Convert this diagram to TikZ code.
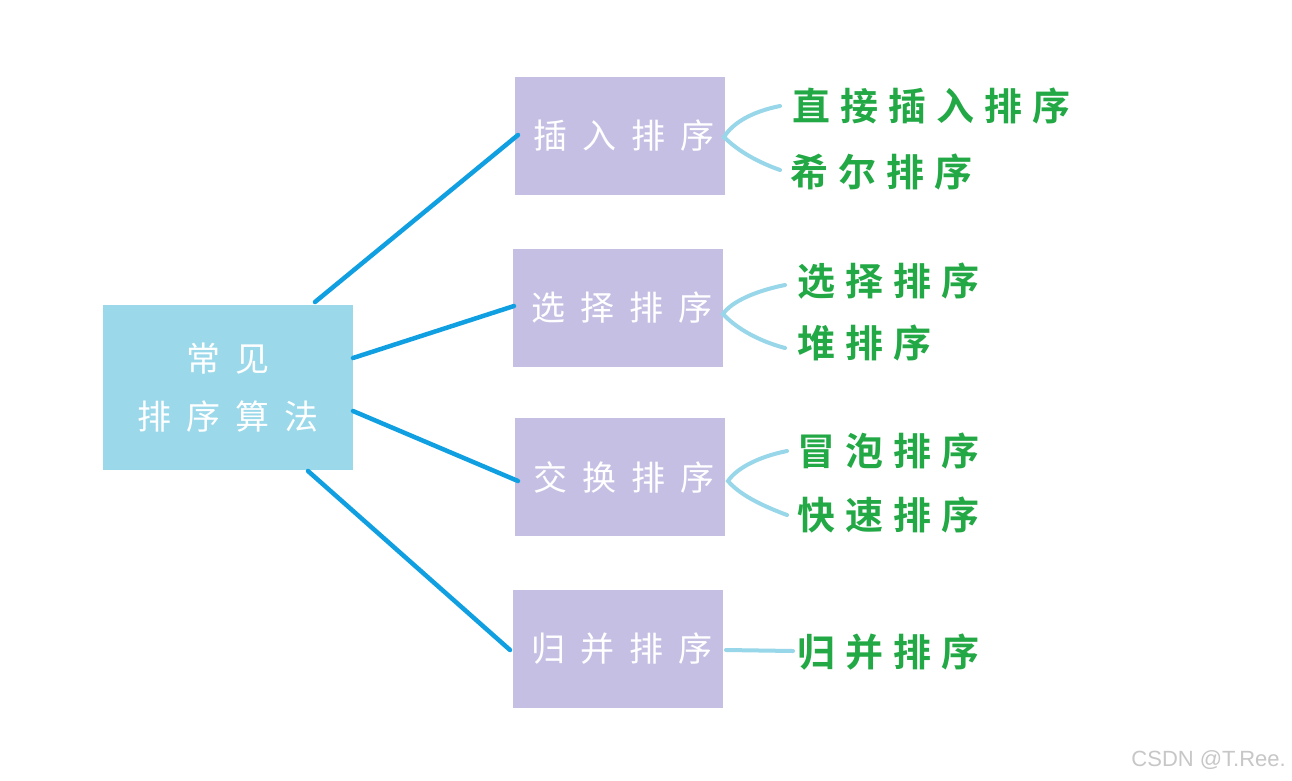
\documentclass[tikz,border=0pt]{standalone}
\usepackage{fontspec}
\newfontfamily\cjk{Noto Sans CJK SC}
\newfontfamily\cjkb{Noto Sans CJK SC Bold}
\setsansfont{Liberation Sans}
\newcommand\gsp{\hspace{15pt}}
\newcommand\hsp{\hspace{10pt}}
\definecolor{rootc}{HTML}{9AD8EA}
\definecolor{boxc}{HTML}{C5BFE4}
\definecolor{mainln}{HTML}{10A0E2}
\definecolor{subln}{HTML}{98D6EA}
\definecolor{leafc}{HTML}{22A845}
\begin{document}
\begin{tikzpicture}[x=1pt,y=-1pt,
  rootbox/.style={fill=rootc, minimum width=250pt, minimum height=165pt, inner sep=0pt, text=white, font=\cjk\fontsize{34pt}{62pt}\selectfont, align=center},
  catbox/.style={fill=boxc, minimum width=210pt, minimum height=118pt, inner sep=0pt, text=white, font=\cjk\fontsize{34pt}{38pt}\selectfont},
  leaf/.style={anchor=west, inner sep=0pt, text=leafc, font=\cjkb\fontsize{38pt}{42pt}\selectfont},
  mainline/.style={draw=mainln, line width=4.5pt, line cap=round},
  subline/.style={draw=subln, line width=4pt, line cap=round}]
\useasboundingbox (0,0) rectangle (1292,780);
\fill[white] (0,0) rectangle (1292,780);
% root
\node[rootbox] (root) at (228,387.5) {常\gsp 见\\[-4pt]排\gsp 序\gsp 算\gsp 法};
% categories
\node[catbox] (c1) at (620,136) {\hspace{8pt}插\gsp 入\gsp 排\gsp 序};
\node[catbox] (c2) at (618,308) {\hspace{8pt}选\gsp 择\gsp 排\gsp 序};
\node[catbox] (c3) at (620,477) {\hspace{8pt}交\gsp 换\gsp 排\gsp 序};
\node[catbox] (c4) at (618,649) {\hspace{8pt}归\gsp 并\gsp 排\gsp 序};
% main connectors
\coordinate (r1) at (315,302);
\coordinate (r2) at (353,358);
\coordinate (r3) at (353,411);
\coordinate (r4) at (308,471);
\coordinate (e1) at (518,135);
\coordinate (e2) at (514,306);
\coordinate (e3) at (518,481);
\coordinate (e4) at (510,650);
\draw[mainline] (r1) -- (e1);
\draw[mainline] (r2) -- (e2);
\draw[mainline] (r3) -- (e3);
\draw[mainline] (r4) -- (e4);
% leaves
\node[leaf] (l1a) at (792,106) {直\hsp 接\hsp 插\hsp 入\hsp 排\hsp 序};
\node[leaf] (l1b) at (790,172) {希\hsp 尔\hsp 排\hsp 序};
\node[leaf] (l2a) at (797,281) {选\hsp 择\hsp 排\hsp 序};
\node[leaf] (l2b) at (797,343) {堆\hsp 排\hsp 序};
\node[leaf] (l3a) at (797,451) {冒\hsp 泡\hsp 排\hsp 序};
\node[leaf] (l3b) at (797,515) {快\hsp 速\hsp 排\hsp 序};
\node[leaf] (l4) at (797,652) {归\hsp 并\hsp 排\hsp 序};
% sub connectors
\coordinate (s1) at (724,137);
\coordinate (t1a) at (780,106);
\coordinate (t1b) at (780,170);
\draw[subline] (t1a) .. controls (750,112) and (732,124) .. (s1) .. controls (735,148) and (752,160) .. (t1b);
\coordinate (s2) at (723,314);
\coordinate (t2a) at (785,285);
\coordinate (t2b) at (785,348);
\draw[subline] (t2a) .. controls (755,291) and (731,302) .. (s2) .. controls (734,326) and (755,340) .. (t2b);
\coordinate (s3) at (728,481);
\coordinate (t3a) at (787,451);
\coordinate (t3b) at (787,515);
\draw[subline] (t3a) .. controls (757,457) and (736,469) .. (s3) .. controls (739,494) and (760,505) .. (t3b);
\coordinate (s4) at (726,650);
\coordinate (t4) at (793,651);
\draw[subline] (s4) -- (t4);
% watermark
\node[anchor=east, inner sep=0pt, text=black!22, font=\sffamily\fontsize{22pt}{26pt}\selectfont] (wm) at (1286,760) {CSDN @T.Ree.};
\end{tikzpicture}
\end{document}
